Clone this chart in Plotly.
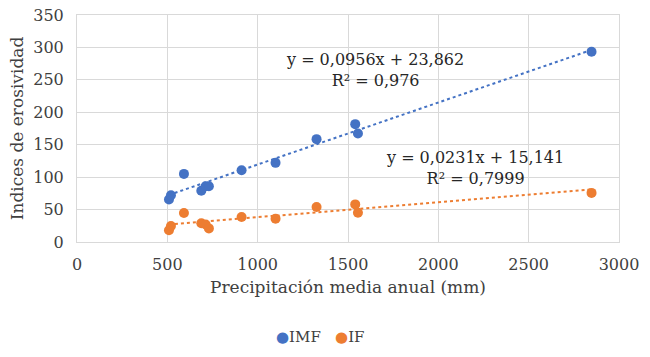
import plotly.graph_objects as go
import numpy as np

precip = [509, 520, 592, 688, 712, 730, 911, 1099, 1326, 1540, 1555, 2848]
imf = [65.5, 72, 105, 79, 86, 86, 110.7, 122, 158.6, 181.7, 167.4, 293.4]
if_vals = [18, 24.7, 44.8, 29, 27, 21, 38.6, 36, 54, 58, 45, 75.7]

imf_coef = [0.0956, 23.862]
if_coef = [0.0231, 15.141]

x_ticks = [0, 500, 1000, 1500, 2000, 2500, 3000]
y_ticks = [0, 50, 100, 150, 200, 250, 300, 350]

blue = "#4472C4"
orange = "#ED7D31"
font = "DejaVu Serif"
tc = "#404040"

fig = go.Figure()
xr = np.array([min(precip), max(precip)])
fig.add_trace(go.Scatter(x=xr, y=imf_coef[0] * xr + imf_coef[1], mode="lines",
                         line=dict(color=blue, width=2, dash="dot"), showlegend=False, hoverinfo="skip"))
fig.add_trace(go.Scatter(x=xr, y=if_coef[0] * xr + if_coef[1], mode="lines",
                         line=dict(color=orange, width=2, dash="dot"), showlegend=False, hoverinfo="skip"))
fig.add_trace(go.Scatter(x=precip, y=imf, mode="markers", name="IMF", showlegend=False,
                         marker=dict(color=blue, size=10)))
fig.add_trace(go.Scatter(x=precip, y=if_vals, mode="markers", name="IF", showlegend=False,
                         marker=dict(color=orange, size=10)))

fig.add_annotation(x=1649, y=265, xref="x", yref="y", showarrow=False, align="center",
                   text="y = 0,0956x + 23,862<br>R² = 0,976",
                   font=dict(family=font, size=16, color="#262626"))
fig.add_annotation(x=2203, y=114.6, xref="x", yref="y", showarrow=False, align="center",
                   text="y = 0,0231x + 15,141<br>R² = 0,7999",
                   font=dict(family=font, size=16, color="#262626"))

W, H = 650, 357
L, R, T, B = 77, 31, 15, 115
pw = W - L - R
ph = H - T - B

# legend (bottom, centred like the original)
fig.add_annotation(x=(320 - L) / pw, y=(H - B - 337) / ph, xref="paper", yref="paper",
                   showarrow=False, xanchor="center", yanchor="middle",
                   text=f"<span style='color:{blue}'>●</span>IMF&nbsp;&nbsp;&nbsp;<span style='color:{orange}'>●</span>IF",
                   font=dict(family=font, size=15, color=tc))

axis_common = dict(showgrid=True, gridcolor="#d9d9d9", gridwidth=1, zeroline=False,
                   showline=True, linecolor="#d9d9d9", mirror=True, ticks="", automargin=False,
                   ticklabeloverflow="allow",
                   tickfont=dict(family=font, size=16, color=tc))
fig.update_xaxes(range=[0, 3000], tickvals=x_ticks, ticklabelstandoff=8,
                 title=dict(text="Precipitación media anual (mm)", font=dict(family=font, size=17, color=tc), standoff=7),
                 **axis_common)
fig.update_yaxes(range=[0, 350], tickvals=y_ticks, ticklabelstandoff=9,
                 title=dict(text="Indices de erosividad", font=dict(family=font, size=17, color=tc), standoff=5),
                 **axis_common)

fig.update_layout(width=W, height=H, margin=dict(l=L, r=R, t=T, b=B),
                  plot_bgcolor="white", paper_bgcolor="white",
                  font=dict(family=font, size=16, color=tc),
                  showlegend=False)

fig.write_html("out.html", config={"displayModeBar": False},
               post_script="document.body.style.margin='0';")
